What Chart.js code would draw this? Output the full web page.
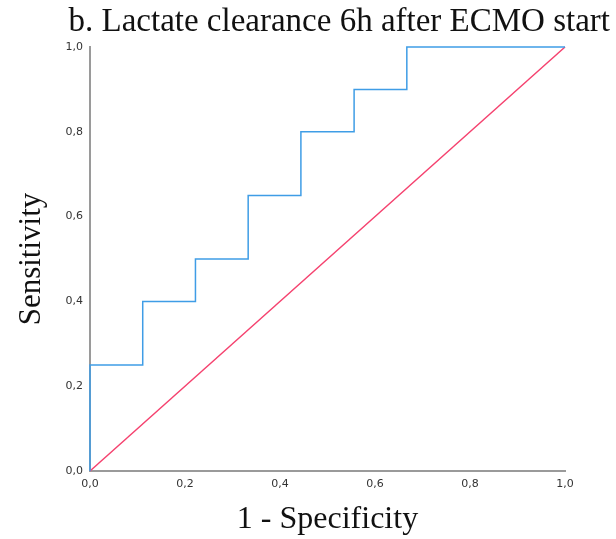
<!DOCTYPE html>
<html>
<head>
<meta charset="utf-8">
<script src="https://cdn.jsdelivr.net/npm/chart.js@4"></script>
<style>
  body { margin: 0; background: #fff; }
  #wrap { width: 616px; height: 539px; }
</style>
</head>
<body>
<div id="wrap"><canvas id="rocChart" width="616" height="539"></canvas></div>
<script>
// ROC curve corners
const fpr = [0, 0, 0.111, 0.111, 0.222, 0.222, 0.333, 0.333, 0.444, 0.444, 0.556, 0.556, 0.667, 0.667, 1.0];
const tpr = [0, 0.25, 0.25, 0.40, 0.40, 0.50, 0.50, 0.65, 0.65, 0.80, 0.80, 0.90, 0.90, 1.0, 1.0];
const refX = [0, 1];
const refY = [0, 1];
const tickValues = [0, 0.2, 0.4, 0.6, 0.8, 1.0];

const fmt = (v) => v.toFixed(1).replace(".", ",");
const tickFont = { family: "DejaVu Sans", size: 11 };
const serif = "Liberation Serif";

new Chart(document.querySelector("#rocChart"), {
  type: "line",
  data: {
    datasets: [
      {
        label: "ROC",
        data: fpr.map((x, i) => ({ x, y: tpr[i] })),
        borderColor: "#3f9de6",
        borderWidth: 1.5,
        pointRadius: 0,
        tension: 0,
        clip: 4,
      },
      {
        label: "Reference",
        data: refX.map((x, i) => ({ x, y: refY[i] })),
        borderColor: "#f5426f",
        borderWidth: 1.5,
        pointRadius: 0,
        tension: 0,
        clip: 4,
      },
    ],
  },
  options: {
    responsive: false,
    animation: false,
    layout: { padding: { left: 0, right: 6, top: 0, bottom: 0 } },
    plugins: {
      legend: { display: false },
      tooltip: { enabled: false },
      title: {
        display: true,
        text: "b. Lactate clearance 6h after ECMO start",
        align: "end",
        color: "#111",
        font: { family: serif, size: 33, weight: "normal" },
        padding: { top: 3, bottom: 4.4 },
      },
    },
    scales: {
      x: {
        type: "linear",
        min: 0,
        max: 1,
        afterBuildTicks: (s) => { s.ticks = tickValues.map((v) => ({ value: v })); },
        afterFit: (s) => { s.height = 68; },
        grid: { display: false, drawTicks: false },
        border: { display: true, color: "#9a9a9a", width: 2 },
        ticks: { callback: fmt, color: "#333", font: tickFont, padding: 7, maxRotation: 0 },
        title: {
          display: true,
          text: "1 - Specificity",
          color: "#111",
          font: { family: serif, size: 32 },
          padding: { top: 0, bottom: 0 },
        },
      },
      y: {
        type: "linear",
        min: 0,
        max: 1,
        afterBuildTicks: (s) => { s.ticks = tickValues.map((v) => ({ value: v })); },
        afterFit: (s) => { s.width = 90; },
        grid: { display: false, drawTicks: false },
        border: { display: true, color: "#9a9a9a", width: 2 },
        ticks: { callback: fmt, color: "#333", font: tickFont, padding: 7 },
        title: {
          display: true,
          text: "Sensitivity",
          color: "#111",
          font: { family: serif, size: 31 },
          padding: { top: 13, bottom: 0 },
        },
      },
      // empty right-hand box so the plot ends where the reference does
      spacer: {
        type: "linear",
        position: "right",
        display: true,
        afterFit: (s) => { s.width = 45; },
        grid: { display: false, drawTicks: false },
        border: { display: false },
        ticks: { display: false },
      },
    },
  },
});
</script>
</body>
</html>
